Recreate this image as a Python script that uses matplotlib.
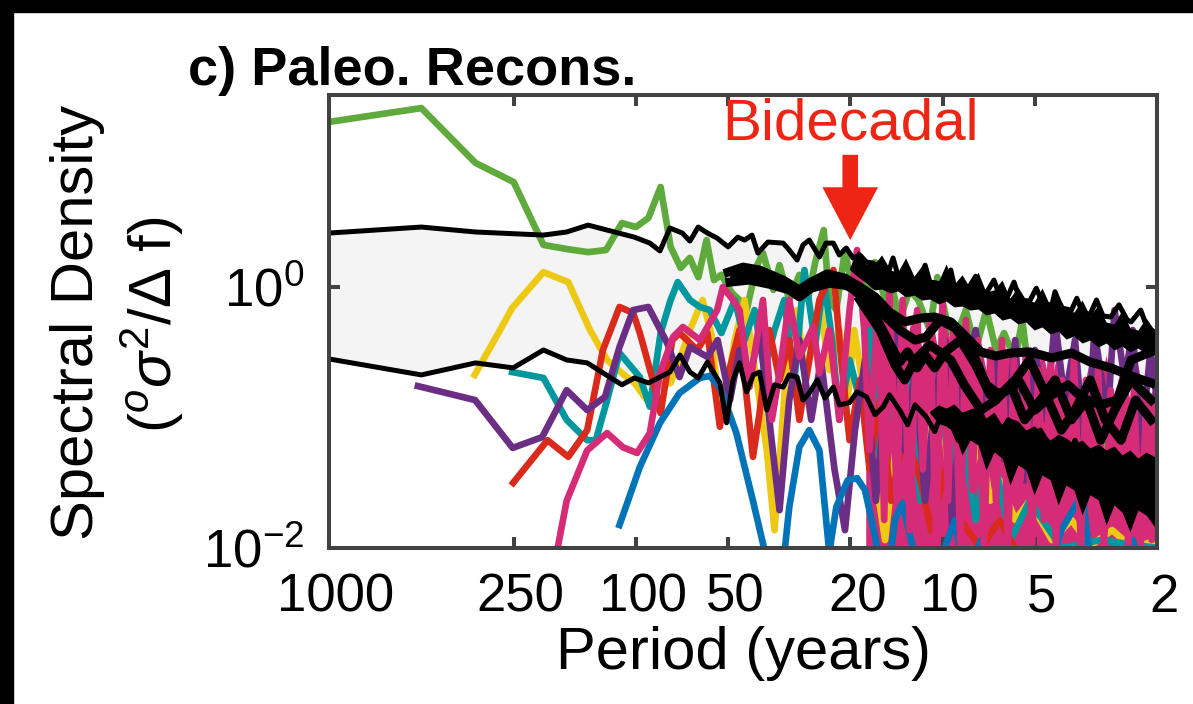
import numpy as np
import matplotlib
matplotlib.use('Agg')
import matplotlib.pyplot as plt
from matplotlib.patches import Rectangle
from matplotlib.ticker import NullLocator
from matplotlib.transforms import ScaledTranslation

plt.rcParams['font.family'] = ['Liberation Sans', 'DejaVu Sans']
plt.rcParams['mathtext.fontset'] = 'custom'
plt.rcParams['mathtext.rm'] = 'Liberation Sans'
plt.rcParams['mathtext.it'] = 'Liberation Sans:italic'
plt.rcParams['mathtext.bf'] = 'Liberation Sans:bold'

# ---- spectra of the paleo reconstructions (period in years, PSD) ----
green_period = [1000, 500, 333, 250, 200, 167, 143, 125, 111, 100, 91, 83, 77, 71.4, 66.7, 62.5,
                58.8, 55.6, 52.6, 48.6, 45.9, 43.5, 40.5, 38.5, 35.6, 34.0, 31.6, 29.3, 27.5, 26.0,
                24.4, 23.4, 22.2, 20.8, 19.7, 18.6, 17.5, 16.6, 15.4, 14.6, 13.8, 12.8, 12.0, 11.0,
                10.4, 9.7, 9.1, 8.4, 7.8, 7.2, 6.7, 6.3, 5.8, 5.5, 5.2, 4.6, 4.1, 3.5, 3.05, 2.6,
                2.26, 2.0]
green_psd = [18.4, 23.5, 8.93, 6.37, 2.10, 1.95, 1.85, 1.92, 3.09, 2.88, 3.38, 5.84, 2.03, 1.40,
             1.67, 1.19, 2.29, 1.13, 1.24, 0.90, 0.795, 0.666, 1.42, 1.82, 0.95, 1.47, 0.795, 1.24,
             0.795, 1.55, 2.73, 0.795, 0.666, 1.92, 0.95, 1.35, 0.795, 1.55, 0.795, 1.0, 0.558,
             0.95, 0.795, 0.468, 1.19, 0.558, 0.392, 0.666, 0.329, 0.666, 0.329, 0.444, 0.276,
             0.558, 0.194, 0.136, 0.096, 0.080, 0.067, 0.047, 0.040, 0.033]

yellow_period = [335, 277, 253, 200, 166, 141, 124, 111, 101, 92, 85, 77, 72, 66.6, 60.6, 56.6,
                 53.2, 50.6, 47.6, 44.2, 41.8, 39.5, 37.4, 35.3, 33.6, 31.6, 29.8, 28.0, 26.4,
                 25.2, 23.4, 21.7, 20.4, 19.4, 18.3, 17.3, 16.3, 15.4, 14.5, 13.8, 12.8, 11.8,
                 11.0, 10.2, 9.6, 9.3, 8.75, 8.1, 7.5, 7.0, 6.5, 5.8, 5.2, 4.4, 3.8, 3.3, 2.8,
                 2.4, 2.0]
yellow_psd = [0.212, 0.468, 0.690, 1.30, 1.09, 0.468, 0.276, 0.219, 0.184, 0.136, 0.178, 0.184,
              0.276, 0.468, 0.795, 0.429, 0.101, 0.162, 0.392, 0.795, 0.329, 0.136, 0.056,
              0.0137, 0.067, 0.468, 0.666, 0.194, 0.392, 0.795, 0.231, 0.468, 0.136, 0.468,
              0.194, 0.096, 0.028, 0.0115, 0.040, 0.096, 0.194, 0.056, 0.096, 0.194, 0.040,
              0.023, 0.080, 0.040, 0.067, 0.023, 0.033, 0.0164, 0.023, 0.0115, 0.0164, 0.0104,
              0.0137, 0.010, 0.0115]

teal_period = [253, 200, 168, 144, 135, 124, 113, 97, 90, 83, 77, 73, 66.6, 61.8, 57.4, 52.6,
               47.6, 44.2, 41.0, 38.1, 35.3, 32.8, 30.4, 28.2, 26.0, 24.4, 22.9, 21.7, 20.1,
               18.6, 17.3, 16.0, 14.9, 13.8, 12.8, 11.8, 11.0, 10.2, 9.4, 8.75, 7.8, 7.0, 6.0,
               5.2, 4.1, 3.05, 2.0]
teal_psd = [0.223, 0.201, 0.096, 0.067, 0.067, 0.136, 0.312, 0.204, 0.121, 0.444, 0.795, 1.09,
            0.795, 0.703, 0.666, 0.444, 0.795, 0.392, 0.666, 0.231, 0.468, 0.795, 0.194, 1.35,
            0.360, 1.13, 0.392, 0.096, 0.276, 0.136, 0.468, 0.047, 0.136, 0.067, 0.194, 0.023,
            0.056, 0.162, 0.033, 0.096, 0.0164, 0.067, 0.0115, 0.023, 0.010, 0.0115, 0.010]

red_period = [251, 194, 166, 144, 128, 113, 102, 97, 88, 83, 76, 72, 63, 58.4, 53.2, 50.5, 45.9,
              41.5, 39.5, 36.7, 34.0, 31.6, 29.3, 27.2, 25.2, 22.7, 21.4, 20.1, 18.6, 17.3,
              16.0, 14.7, 13.3, 11.8, 10.9, 9.8, 8.75, 7.5, 6.5, 5.2, 3.5, 2.0]
red_psd = [0.0316, 0.067, 0.050, 0.080, 0.329, 0.703, 0.632, 0.444, 0.194, 0.108, 0.392, 0.444,
           0.329, 0.444, 0.085, 0.194, 0.468, 0.050, 0.108, 0.468, 0.194, 0.392, 0.096, 0.276,
           0.795, 1.35, 0.276, 0.067, 0.194, 0.040, 0.136, 0.023, 0.080, 0.033, 0.0137, 0.040,
           0.0164, 0.010, 0.0164, 0.006, 0.006, 0.006]

purple_period = [513, 334, 252, 202, 168, 144, 126, 113, 102, 91, 79, 72, 66.6, 58.4, 54.1,
                 49.3, 45.9, 42.6, 39.5, 36.7, 34.0, 31.6, 29.3, 26.8, 24.9, 22.5, 20.8, 19.3,
                 17.9, 16.5, 15.4, 14.3, 13.3, 12.3, 11.4, 10.6, 9.8, 9.3, 8.6, 7.8, 7.2, 6.7,
                 6.3, 5.8, 5.4, 5.0, 4.6, 4.3, 4.0, 3.7, 3.4, 3.2, 2.9, 2.75, 2.55, 2.4, 2.26,
                 2.1, 2.0]
purple_psd = [0.174, 0.136, 0.0585, 0.0707, 0.162, 0.114, 0.144, 0.347, 0.666, 0.703, 0.372,
              0.204, 0.347, 0.291, 0.392, 0.136, 0.329, 0.194, 0.468, 0.096, 0.0195, 0.136,
              0.392, 0.096, 0.276, 0.040, 0.0137, 0.080, 0.276, 0.023, 0.136, 0.468, 0.056,
              0.231, 0.023, 0.136, 0.392, 0.0137, 0.194, 0.468, 0.096, 0.276, 0.047, 0.392,
              0.033, 0.329, 0.096, 0.558, 0.136, 0.392, 0.040, 0.468, 0.096, 0.666, 0.194,
              0.468, 0.056, 0.329, 0.136]

pink_period = [181, 168, 144, 124, 110, 99, 90, 83.4, 75.6, 70.2, 61.8, 54.3, 52.0, 48.2, 45.9,
               42.6, 38.5, 36.0, 34.0, 31.6, 29.3, 26.4, 25.2, 23.4, 21.7, 20.1, 19.0, 18.0,
               17.3, 16.2, 15.5, 14.9, 14.1, 13.5, 12.8, 12.1, 11.6, 11.0, 10.5, 10.0, 9.6, 9.2,
               8.75, 8.4, 8.0, 7.66, 7.33, 6.98, 6.70, 6.40, 6.12, 5.85, 5.57, 5.35, 5.11, 4.88,
               4.67, 4.44, 4.27, 4.08, 3.90, 3.73, 3.54, 3.41, 3.26, 3.11, 2.98, 2.83, 2.72,
               2.60, 2.48, 2.38, 2.26, 2.17, 2.08, 2.0]
pink_psd = [0.0092, 0.023, 0.056, 0.076, 0.059, 0.0535, 0.076, 0.219, 0.414, 0.494, 0.392, 0.666,
            1.0, 0.795, 0.666, 0.171, 0.795, 0.096, 0.219, 0.795, 0.291, 0.494, 0.219, 0.468,
            0.096, 0.666, 1.92, 0.468, 0.056, 0.795, 0.0164, 0.95, 0.023, 0.795, 0.0137, 0.666,
            0.040, 0.558, 0.0115, 0.795, 0.023, 0.468, 0.010, 0.558, 0.0278, 0.392, 0.010,
            0.329, 0.023, 0.392, 0.010, 0.276, 0.033, 0.329, 0.010, 0.231, 0.0164, 0.276, 0.010,
            0.194, 0.023, 0.276, 0.010, 0.194, 0.0195, 0.231, 0.010, 0.162, 0.0164, 0.194,
            0.010, 0.162, 0.010, 0.136, 0.0115, 0.096]

# upper edge of the densely packed pink record at short periods
pink_top_period = [17.8, 16.7, 15.8, 14.8, 14.0, 13.2, 12.4, 11.7, 11.0, 10.3, 9.74, 9.18, 8.64,
                   8.14, 7.66, 7.22, 6.80, 6.40, 6.03, 5.68, 5.35, 5.03, 4.74, 4.46, 4.20, 3.96,
                   3.73, 3.51, 3.31, 3.11, 2.93, 2.76, 2.60, 2.45, 2.31, 2.17, 2.0]
pink_top_psd = [0.795, 0.468, 0.868, 0.392, 0.795, 0.360, 0.666, 0.329, 0.728, 0.301, 0.558,
                0.276, 0.468, 0.276, 0.468, 0.231, 0.429, 0.212, 0.392, 0.194, 0.360, 0.178,
                0.329, 0.178, 0.329, 0.162, 0.301, 0.149, 0.276, 0.149, 0.301, 0.136, 0.276,
                0.136, 0.253, 0.125, 0.194]

blue_period = [113, 97, 83.4, 72, 61.8, 57.4, 53.2, 47, 41.5, 37.4, 34.0, 31.6, 29.3, 27.2,
               25.2, 23.4, 22.2, 20.4, 19.0, 17.9, 16.5, 15.4, 14.3, 13.5, 12.5, 11.4, 10.2,
               9.1, 8.4, 7.5, 6.5, 5.6, 4.8, 4.1, 3.5, 3.3, 2.8, 2.4, 2.0]
blue_psd = [0.0150, 0.0418, 0.091, 0.154, 0.201, 0.208, 0.171, 0.076, 0.023, 0.0081, 0.004,
            0.0206, 0.0594, 0.080, 0.056, 0.0092, 0.0206, 0.033, 0.0343, 0.0278, 0.0115, 0.004,
            0.0164, 0.0222, 0.010, 0.004, 0.0081, 0.0164, 0.0048, 0.0115, 0.004, 0.0081, 0.004,
            0.0137, 0.026, 0.0081, 0.003, 0.0115, 0.004]

# ---- red-noise confidence bounds ----
upper_period = [1000, 500, 333, 200, 168, 143, 124, 101, 90, 83.4, 77.4, 70.5, 66.6, 62.6, 58.4,
                54.3, 50, 46.5, 44.2, 41.8, 40.0, 37.1, 33.1, 31.6, 29.8, 28.5, 27.2, 25.2, 24.0,
                22.7, 21.7, 20.6, 19.6, 18.6, 17.7, 16.9, 16.0, 15.2, 14.5, 14.0, 13.5, 13.0,
                12.5, 11.8, 11.4, 11.0, 10.4, 9.8, 9.4, 9.1, 8.6, 8.3, 7.8, 7.5, 7.2, 6.8, 6.5,
                6.1, 5.85, 5.6, 5.2, 4.95, 4.7, 4.4, 4.3, 4.1, 3.8, 3.65, 3.5, 3.3, 3.15, 3.0,
                2.83, 2.66, 2.5, 2.43, 2.26, 2.17, 2.09, 2.0]
upper_psd = [2.59, 2.88, 2.64, 2.50, 2.64, 2.98, 2.73, 2.41, 2.17, 1.89, 2.83, 2.59, 2.25, 2.88,
             2.59, 2.37, 2.03, 2.41, 2.29, 2.50, 1.82, 2.21, 2.17, 1.92, 1.61, 2.10, 2.29, 1.70,
             2.17, 2.17, 1.76, 1.99, 1.67, 1.76, 1.55, 1.53, 1.40, 1.19, 1.67, 1.24, 1.28, 1.40,
             1.13, 1.17, 1.47, 1.09, 1.07, 1.0, 1.35, 0.95, 0.92, 0.95, 1.21, 0.87, 0.90, 1.13,
             0.84, 0.87, 1.09, 0.795, 0.78, 0.98, 0.74, 0.73, 0.92, 0.69, 0.666, 0.82, 0.632,
             0.62, 0.795, 0.60, 0.589, 0.73, 0.558, 0.54, 0.666, 0.512, 0.468, 0.444]

lower_period = [1000, 500, 333, 251, 200, 168, 144, 111, 101, 91, 77.4, 71.8, 66.6, 62.6, 58.4,
                53.2, 50.6, 48.2, 45.9, 43.5, 41.4, 39.5, 37.4, 35.3, 33.1, 31.6, 29.8, 28.5,
                27.2, 25.6, 24.2, 22.7, 21.7, 20.1, 19.0, 17.7, 16.6, 15.6, 14.9, 13.8, 13.0,
                12.3, 11.3, 10.6, 10.0, 9.4, 8.9, 8.3, 7.8, 7.4, 7.0, 6.5, 6.1, 5.7, 5.4, 5.1,
                4.8, 4.4, 4.2, 3.9, 3.7, 3.5, 3.3, 3.05, 2.9, 2.7, 2.5, 2.4, 2.26, 2.09, 2.0]
lower_psd = [0.281, 0.212, 0.262, 0.240, 0.329, 0.276, 0.262, 0.178, 0.201, 0.184, 0.223, 0.301,
             0.223, 0.201, 0.266, 0.184, 0.091, 0.194, 0.262, 0.157, 0.212, 0.223, 0.114, 0.178,
             0.171, 0.212, 0.204, 0.136, 0.154, 0.194, 0.141, 0.171, 0.125, 0.130, 0.157, 0.144,
             0.105, 0.121, 0.149, 0.114, 0.088, 0.125, 0.101, 0.078, 0.114, 0.091, 0.067, 0.085,
             0.105, 0.080, 0.056, 0.076, 0.096, 0.067, 0.0457, 0.0594, 0.080, 0.056, 0.0363,
             0.050, 0.067, 0.047, 0.0278, 0.0375, 0.0515, 0.029, 0.0214, 0.0264, 0.0395, 0.029,
             0.0195]

# spread of the bounds at short periods, where they are sampled densely
upper_band_period = [20.1, 18.9, 17.8, 16.7, 15.8, 14.8, 14.0, 13.2, 12.4, 11.7, 11.0, 10.3,
                     9.74, 9.18, 8.64, 8.14, 7.66, 7.22, 6.80, 6.40, 6.03, 5.68, 5.35, 5.03,
                     4.74, 4.46, 4.20, 3.96, 3.73, 3.51, 3.31, 3.11, 2.93, 2.76, 2.60, 2.45,
                     2.31, 2.17, 2.0]
upper_hi = [1.40, 1.92, 1.50, 1.50, 1.76, 1.35, 1.30, 1.67, 1.21, 1.45, 1.15, 1.11, 1.50, 1.05,
            1.24, 0.983, 1.30, 0.915, 0.95, 1.13, 0.823, 1.0, 0.795, 0.767, 0.983, 0.715, 0.868,
            0.666, 0.643, 0.795, 0.600, 0.728, 0.539, 0.521, 0.666, 0.485, 0.468, 0.578, 0.436]
upper_lo = [1.36, 1.20, 1.08, 0.95, 0.965, 0.90, 0.932, 0.838, 0.868, 0.795, 0.809, 0.741,
            0.781, 0.703, 0.715, 0.666, 0.678, 0.610, 0.632, 0.558, 0.578, 0.521, 0.539, 0.468,
            0.494, 0.436, 0.460, 0.399, 0.421, 0.372, 0.392, 0.347, 0.372, 0.329, 0.353, 0.318,
            0.341, 0.307, 0.318]
lower_band_period = [11.0, 10.3, 9.74, 9.18, 8.64, 8.14, 7.66, 7.22, 6.80, 6.40, 6.03, 5.68,
                     5.35, 5.03, 4.74, 4.46, 4.20, 3.96, 3.73, 3.51, 3.31, 3.11, 2.93, 2.76,
                     2.60, 2.45, 2.31, 2.17, 2.0]
lower_hi = [0.112, 0.125, 0.118, 0.127, 0.110, 0.116, 0.122, 0.0991, 0.110, 0.0876, 0.0991,
            0.094, 0.0802, 0.0862, 0.0774, 0.0672, 0.0747, 0.0697, 0.0627, 0.0672, 0.0584,
            0.0627, 0.0564, 0.0605, 0.0516, 0.0564, 0.0489, 0.0544, 0.0489]
lower_lo = [0.108, 0.090, 0.0860, 0.0774, 0.0516, 0.0672, 0.0616, 0.0396, 0.0544, 0.0489,
            0.0304, 0.0433, 0.0396, 0.0256, 0.0363, 0.0333, 0.0214, 0.0304, 0.0278, 0.0179,
            0.0256, 0.0234, 0.0150, 0.0214, 0.0188, 0.0133, 0.0195, 0.0179, 0.0137]

# ---- smoothed spectra (thick black) ----
smooth1_period = [50, 44.7, 39.5, 33.1, 29.3, 27.2, 23.8, 20.8, 18.6, 16.6, 14.9, 13.3, 11.8,
                  10.6, 9.4, 8.5, 7.5, 6.7, 6.0, 5.2, 4.4, 3.8, 3.3, 2.83, 2.43, 2.09]
smooth1_psd = [1.30, 1.42, 1.35, 1.13, 0.95, 1.07, 1.26, 1.17, 1.0, 0.84, 0.643, 0.54, 0.578,
               0.589, 0.54, 0.429, 0.318, 0.296, 0.312, 0.318, 0.286, 0.312, 0.266, 0.240,
               0.208, 0.184]
smooth2_period = [49.3, 42.6, 36.7, 31.6, 29.3, 26.8, 23.4, 20.1, 17.9, 16.0, 14.9, 13.8, 13.0,
                  12.1, 11.4, 10.6, 9.8, 8.75, 7.8, 7.0, 6.3, 5.6, 5.0, 4.4, 3.9, 3.5, 3.05,
                  2.7, 2.43, 2.09]
smooth2_psd = [1.09, 1.13, 1.05, 0.95, 0.84, 0.98, 1.07, 1.02, 0.795, 0.512, 0.372, 0.266,
               0.318, 0.240, 0.301, 0.240, 0.318, 0.392, 0.253, 0.149, 0.157, 0.187, 0.114,
               0.149, 0.178, 0.141, 0.125, 0.136, 0.276, 0.318]
smooth3_period = [47.6, 39.5, 32.8, 29.3, 26.0, 22.4, 19.3, 17.3, 15.4, 13.8, 12.3, 11.3, 10.2,
                  9.1, 8.1, 7.2, 6.5, 5.8, 5.2, 4.6, 4.1, 3.7, 3.3, 2.95, 2.62, 2.35, 2.09]
smooth3_psd = [1.21, 1.21, 1.02, 0.88, 1.09, 1.13, 0.95, 0.795, 0.60, 0.468, 0.392, 0.414,
               0.558, 0.485, 0.341, 0.178, 0.149, 0.194, 0.276, 0.149, 0.080, 0.114, 0.194,
               0.096, 0.067, 0.136, 0.096]
smooth4_period = [18.6, 16.0, 14.3, 13.3, 12.3, 11.0, 9.4, 8.5, 7.5, 6.7, 6.0, 5.4, 4.8, 4.3,
                  3.8, 3.4, 3.05, 2.75, 2.43, 2.09]
smooth4_psd = [0.795, 0.468, 0.253, 0.194, 0.276, 0.360, 0.276, 0.178, 0.114, 0.136, 0.178,
               0.096, 0.136, 0.194, 0.096, 0.136, 0.067, 0.114, 0.194, 0.136]

period_ticks = [1000, 250, 100, 50, 20, 10, 5, 2]
psd_ticks = [1e-2, 1e0]

GREEN = '#5FAA3C'
YELLOW = '#EDC914'
TEAL = '#00979F'
RED = '#DA2A1C'
PURPLE = '#6C2D84'
PINK = '#D62C78'
BLUE = '#0073B9'
ANNOT = '#EE2414'
AXCOL = '#424242'

fig = plt.figure(figsize=(11.93, 7.04), dpi=100)
ax = fig.add_axes([329/1193, 1-548/704, 828/1193, 453/704])
ax.set_xscale('log')
ax.set_yscale('log')

# shaded band between the bounds
ax.fill(np.r_[upper_period, lower_period[::-1]], np.r_[upper_psd, lower_psd[::-1]],
        color='#f4f4f4', lw=0, zorder=1)

ax.fill_between(pink_top_period, 1e-3, pink_top_psd, color=PINK, lw=0, zorder=1.5)

LW = 4.8
series = [(green_period, green_psd, GREEN), (yellow_period, yellow_psd, YELLOW),
          (teal_period, teal_psd, TEAL), (red_period, red_psd, RED),
          (purple_period, purple_psd, PURPLE), (blue_period, blue_psd, BLUE),
          (pink_period, pink_psd, PINK)]
for p, s, c in series:
    ax.plot(p, s, color=c, lw=LW, zorder=2)

ax.plot(upper_period, upper_psd, color='k', lw=3.6, zorder=3)
ax.plot(lower_period, lower_psd, color='k', lw=3.6, zorder=3)
ax.fill_between(upper_band_period, upper_lo, upper_hi, color='k', lw=0, zorder=3)
ax.fill_between(lower_band_period, lower_lo, lower_hi, color='k', lw=0, zorder=3)
for p, s in [(smooth1_period, smooth1_psd), (smooth2_period, smooth2_psd),
             (smooth3_period, smooth3_psd), (smooth4_period, smooth4_psd)]:
    ax.plot(p, s, color='k', lw=6.5, zorder=4)

ax.set_xlim(1000, 2)
ax.set_ylim(1e-2, 29.6)
ax.set_xticks(period_ticks)
ax.set_xticklabels([str(t) for t in period_ticks])
ax.set_yticks(psd_ticks)
ax.set_yticklabels([r'$10^{-2}$', r'$10^{0}$'])
ax.xaxis.set_minor_locator(NullLocator())
ax.yaxis.set_minor_locator(NullLocator())
ax.tick_params(direction='in', length=8, width=2.9, color=AXCOL, top=True, right=True,
               labelsize=38, pad=18)
shift = ScaledTranslation(7/100, 0, fig.dpi_scale_trans)
for lab in ax.get_xticklabels():
    lab.set_transform(lab.get_transform() + shift)
for sp in ax.spines.values():
    sp.set_linewidth(2.9)
    sp.set_color(AXCOL)
    sp.set_zorder(6)

ax.text(20, 13.4, 'Bidecadal', ha='center', va='baseline', color=ANNOT, fontsize=42, zorder=7)
ax.annotate('', xy=(20, 2.29), xytext=(20, 10.3),
            arrowprops=dict(arrowstyle='simple,head_length=0.95,head_width=1.0,tail_width=0.28',
                            fc=ANNOT, ec='none', mutation_scale=40, shrinkA=0, shrinkB=0),
            zorder=7)

ax.set_xlabel('Period (years)', fontsize=43, labelpad=2)
fig.text(188/1193, 1-85/704, 'c) Paleo. Recons.', fontsize=39, fontweight='bold',
         ha='left', va='baseline')
fig.text(78/1193, 1-322/704, 'Spectral Density', fontsize=43, rotation=90,
         ha='center', va='center')
fig.text(152/1193, 1-325/704, r'($^o\sigma^2/\Delta$ f)', fontsize=43, rotation=90,
         ha='center', va='center')

# dark frame strips along the top and left edges
fig.patches.append(Rectangle((0, 1-12/704), 1, 12/704, transform=fig.transFigure,
                             color='k', zorder=10))
fig.patches.append(Rectangle((0, 0), 13/1193, 1, transform=fig.transFigure,
                             color='k', zorder=10))

fig.savefig('out.png', dpi=100)
